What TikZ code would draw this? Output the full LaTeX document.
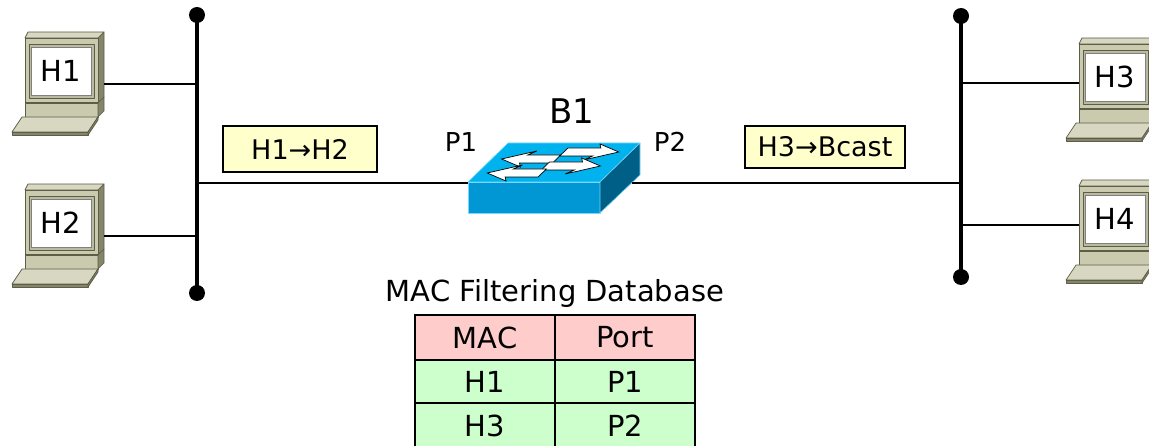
\documentclass[tikz,border=0pt]{standalone}
\usepackage{fontspec}
\setmainfont{DejaVu Sans}
\definecolor{pcfront}{HTML}{CACAAE}
\definecolor{pctop}{HTML}{D8D8C2}
\definecolor{pcside}{HTML}{85856A}
\definecolor{pcline}{HTML}{5E5E48}
\definecolor{swtop}{HTML}{00B2EE}
\definecolor{swfront}{HTML}{0097D4}
\definecolor{swside}{HTML}{005F86}
\definecolor{swedge}{HTML}{7AD6FA}
\definecolor{framefill}{HTML}{FFFFCC}
\definecolor{hdrfill}{HTML}{FFCCCC}
\definecolor{rowfill}{HTML}{CCFFCC}
\newcommand{\fs}[1]{\fontsize{#1}{1.2\dimexpr#1pt\relax}\selectfont}
\begin{document}
\begin{tikzpicture}[x=1pt,y=-1pt,
  pcpart/.style={draw=pcline, line width=0.7pt, line join=round},
  swpart/.style={draw=swedge, line width=0.6pt, line join=round},
  swarrow/.style={draw=black, fill=white, line width=0.7pt, line join=miter},
  bus/.style={line width=3.2pt},
  link/.style={line width=2.8pt},
  dot/.style={fill=black},
  framebox/.style={draw=black, line width=1.5pt, fill=framefill, inner sep=0pt, font=\fs{27}},
  cell/.style={draw=black, line width=1.8pt, minimum width=140pt, inner sep=0pt, font=\fs{29}},
  leftarrow/.style={insert path={-- ++(27,8) -- ++(-5,-4) -- ++(33,0) -- ++(0,-8) -- ++(-33,0) -- ++(5,-4) -- cycle}},
  rightarrow/.style={insert path={-- ++(-27,8) -- ++(5,-4) -- ++(-33,0) -- ++(0,-8) -- ++(33,0) -- ++(-5,-4) -- cycle}},
  computer/.pic={
    % top and right faces of the monitor
    \path[pcpart, fill=pctop] (0,0) -- (3,-6) -- (79,-6) -- (73,0) -- cycle;
    \path[pcpart, fill=pcside] (73,0) -- (79,-6) -- (79,59) -- (73,65) -- cycle;
    % front, bezel and screen
    \path[pcpart, fill=pcfront] (0,0) rectangle (73,65);
    \path[pcpart, fill=pcfront!92!black] (4,6) rectangle (69,60);
    \path[draw=gray, line width=0.6pt, fill=white] (6,9) rectangle (66,57);
    \node[font=\fs{29}] (-screen) at (36,33) {#1};
    % stand
    \path[pcpart, fill=pcfront] (0,65) rectangle (73,79);
    \path[pcpart, fill=pcside] (73,65) -- (79,59) -- (79,73) -- (73,79) -- cycle;
    \draw[pcline, line width=1.2pt] (0,65) -- (73,65);
    % keyboard
    \path[pcpart, fill=pctop] (-3,79) -- (73,79) -- (63,94) -- (-13,94) -- cycle;
    \path[pcpart, fill=pcside] (-13,94) -- (63,94) -- (63,97) -- (-13,97) -- cycle;
    \path[pcpart, fill=pcside] (63,94) -- (73,79) -- (73,82) -- (63,97) -- cycle;
    \coordinate (-e) at (79,46);
    \coordinate (-w) at (0,39);
  },
  switchbox/.pic={
    \path[swpart, fill=swtop] (0,0) -- (40,-39) -- (172,-39) -- (132,0) -- cycle;
    \path[swpart, fill=swfront] (0,0) rectangle (132,31);
    \path[swpart, fill=swside] (132,0) -- (172,-39) -- (172,-7) -- (132,31) -- cycle;
    % arrows lying on the top face (local y runs into depth)
    \begin{scope}[x={(1pt,0pt)}, y={(1.026pt,1pt)}]
      \path[swarrow] (120,30) [rightarrow];
      \path[swarrow] (10,23) [leftarrow];
      \path[swarrow] (116,16) [rightarrow];
      \path[swarrow] (10,9) [leftarrow];
    \end{scope}
    \coordinate (-w) at (0,1);
    \coordinate (-e) at (164,1);
  }]
\useasboundingbox (0,0) rectangle (1149,446);

% hosts and bridge
\pic (h1) at (25,38) {computer=H1};
\pic (h2) at (25,190) {computer=H2};
\pic (h3) at (1079,44) {computer=H3};
\pic (h4) at (1079,186) {computer=H4};
\pic (b1) at (468,182) {switchbox};

% the two shared segments
\coordinate (lt) at (197,15);
\coordinate (lb) at (197,293);
\coordinate (rt) at (961,16);
\coordinate (rb) at (961,277);
\draw[bus] (lt) -- (lb);
\draw[bus] (rt) -- (rb);
\fill[dot] (lt) circle (8);
\fill[dot] (lb) circle (8);
\fill[dot] (rt) circle (8);
\fill[dot] (rb) circle (8);

\draw[link] (h1-e) -- (h1-e -| lt);
\draw[link] (h2-e) -- (h2-e -| lt);
\draw[link] (b1-w) -- (b1-w -| lt);
\draw[link] (b1-e) -- (b1-e -| rt);
\draw[link] (h3-w) -- (h3-w -| rt);
\draw[link] (h4-w) -- (h4-w -| rt);

% bridge and port labels
\node[font=\fs{34}] (b1name) at (572,111) {B1};
\node[font=\fs{26}] (p1) at (461,142) {P1};
\node[font=\fs{26}] (p2) at (670,142) {P2};

% frames on the wire
\node[framebox, minimum width=154pt, minimum height=46pt] (f1) at (300,149) {H1→H2};
\node[framebox, minimum width=160pt, minimum height=42pt] (f2) at (825,147) {H3→Bcast};

% filtering database
\node[font=\fs{29}, anchor=base] (dbtitle) at (555,302) {MAC Filtering Database};
\node[cell, fill=hdrfill, minimum height=45pt] (c11) at (485,337.5) {MAC};
\node[cell, fill=hdrfill, minimum height=45pt] (c12) at (625,337.5) {Port};
\node[cell, fill=rowfill, minimum height=43pt] (c21) at (485,381.5) {H1};
\node[cell, fill=rowfill, minimum height=43pt] (c22) at (625,381.5) {P1};
\node[cell, fill=rowfill, minimum height=45pt] (c31) at (485,425.5) {H3};
\node[cell, fill=rowfill, minimum height=45pt] (c32) at (625,425.5) {P2};
\end{tikzpicture}
\end{document}
